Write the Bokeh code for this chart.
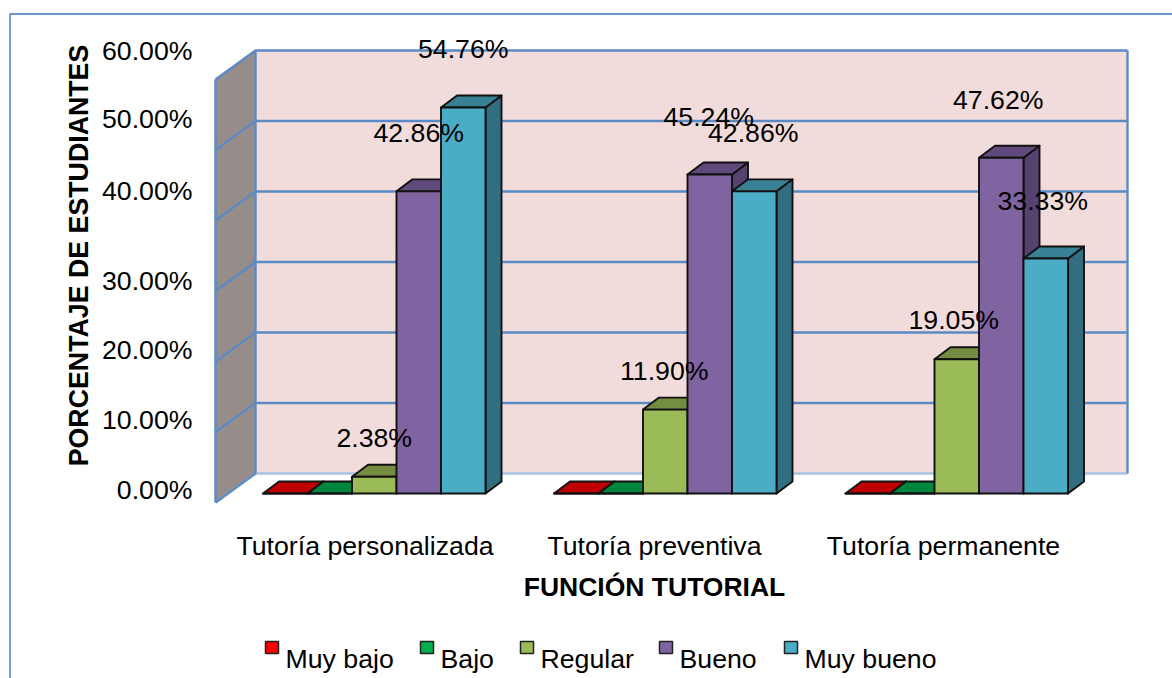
from bokeh.plotting import figure
from bokeh.models import Range1d
from bokeh.core.properties import value
from bokeh.embed import file_html
from bokeh.resources import INLINE
import math

# --- data ---
categories = ["Tutoría personalizada", "Tutoría preventiva", "Tutoría permanente"]
series = ["Muy bajo", "Bajo", "Regular", "Bueno", "Muy bueno"]
muy_bajo = [0.0, 0.0, 0.0]
bajo = [0.0, 0.0, 0.0]
regular = [2.38, 11.90, 19.05]
bueno = [42.86, 45.24, 47.62]
muy_bueno = [54.76, 42.86, 33.33]
tick_values = [0, 10, 20, 30, 40, 50, 60]
tick_labels = ["0.00%", "10.00%", "20.00%", "30.00%", "40.00%", "50.00%", "60.00%"]
x_title = "FUNCIÓN TUTORIAL"
y_title = "PORCENTAJE DE ESTUDIANTES"

# --- style / layout ---
W, H = 1172, 678
SCALE = 7.05            # pixels per percentage point
Y0 = 493                # row of the 0% front of the bars
FONT = value("Liberation Sans")
FS = "26.7px"
front = ["#C00000", "#00B050", "#9BBB59", "#8064A2", "#4BACC6"]
top_c = ["#C00000", "#00863D", "#748D41", "#604A7B", "#388094"]
side_c = ["#900000", "#006F30", "#6A8238", "#56426E", "#336E80"]
legend_c = ["#FF0000", "#00B050", "#9BBB59", "#8064A2", "#4BACC6"]
BLUE = "#5B8BC4"
group_x0 = [262.5, 553.5, 845]
label_shift = [0, -1, -3]
bar_w = 44.5
dx, dy = 16, 12
tick_label_rows = [489, 419, 349, 280, 190, 118, 50]
cat_label_x = [364.5, 654, 943]
legend_x = [265, 420, 520, 659, 784]


def yv(row):
    """row -> value on the chart's percentage scale"""
    return (Y0 - row) / SCALE


p = figure(width=W, height=H, output_backend="svg", toolbar_location=None,
           x_range=Range1d(0, W), y_range=Range1d(yv(H), yv(0)),
           min_border=0, min_border_left=0, min_border_right=0,
           min_border_top=0, min_border_bottom=0,
           x_axis_location=None, y_axis_location=None, outline_line_color=None)
p.grid.visible = False

p.line([9.5, 9.5, W], [yv(H), yv(13.5), yv(13.5)], line_color="#6C97C9", line_width=1.8)

wall_l, wall_r, wall_front = 255, 1127, 215
back_off = yv(473)
side_off = yv(502)
p.patch([wall_l, wall_r, wall_r, wall_l],
        [back_off, back_off, 60 + back_off, 60 + back_off],
        fill_color="#F2DCDB", line_color=None)
p.patch([wall_front, wall_l, wall_l, wall_front],
        [side_off, back_off, 60 + back_off, 60 + side_off],
        fill_color="#968C89", line_color=None)
for t in tick_values:
    p.line([wall_front, wall_l, wall_r], [t + side_off, t + back_off, t + back_off],
           line_color="#A9C3E0" if t == 0 else BLUE, line_width=2.4)
for xs, ys in [([wall_front, wall_front], [side_off, 60 + side_off]),
               ([wall_l, wall_l], [back_off, 60 + back_off]),
               ([wall_r, wall_r], [back_off, 60 + back_off]),
               ([wall_front, wall_l], [side_off, back_off])]:
    p.line(xs, ys, line_color=BLUE, line_width=2.4)

all_series = [muy_bajo, bajo, regular, bueno, muy_bueno]
d_val = dy / SCALE
for g, x0 in enumerate(group_x0):
    for s, vals in enumerate(all_series):
        v = vals[g]
        l = x0 + s * bar_w
        r = l + bar_w
        kw = dict(line_color="#111111", line_width=1.9, line_join="round")
        p.patch([r, r + dx, r + dx, r], [0, d_val, v + d_val, v], fill_color=side_c[s], **kw)
        p.patch([l, l + dx, r + dx, r], [v, v + d_val, v + d_val, v], fill_color=top_c[s], **kw)
        p.patch([l, r, r, l], [0, 0, v, v], fill_color=front[s], **kw)

lx, ly, lt = [], [], []
for g, x0 in enumerate(group_x0):
    for s, vals in enumerate(all_series):
        v = vals[g]
        if v == 0:
            continue
        lx.append(x0 + (s + 0.5) * bar_w + label_shift[g])
        ly.append(v + (58 if v > 30 else 39) / SCALE)
        lt.append(f"{v:.2f}%")
common = dict(text_font=FONT, text_font_size=FS, text_color="#000000", text_baseline="middle")
p.text(x=lx, y=ly, text=lt, text_align="center", **common)

p.text(x=[192] * len(tick_labels), y=[yv(r) for r in tick_label_rows], text=tick_labels,
       text_align="right", **common)
p.text(x=cat_label_x, y=[yv(545)] * 3, text=categories, text_align="center", **common)
p.text(x=[654], y=[yv(586)], text=[x_title], text_align="center",
       text_font=FONT, text_font_size="26.5px", text_font_style="bold", text_baseline="middle")
p.text(x=[78], y=[yv(255)], text=[y_title], text_align="center", angle=math.pi / 2,
       text_font=FONT, text_font_size="26.75px", text_font_style="bold", text_baseline="middle")

for name, x, c in zip(series, legend_x, legend_c):
    p.patch([x, x + 13, x + 13, x], [yv(653), yv(653), yv(641), yv(641)],
            fill_color=c, line_color="#222222", line_width=1.5)
    p.text(x=[x + 20], y=[yv(658)], text=[name], text_align="left", **common)

open("out.html", "w").write(file_html(p, INLINE))
